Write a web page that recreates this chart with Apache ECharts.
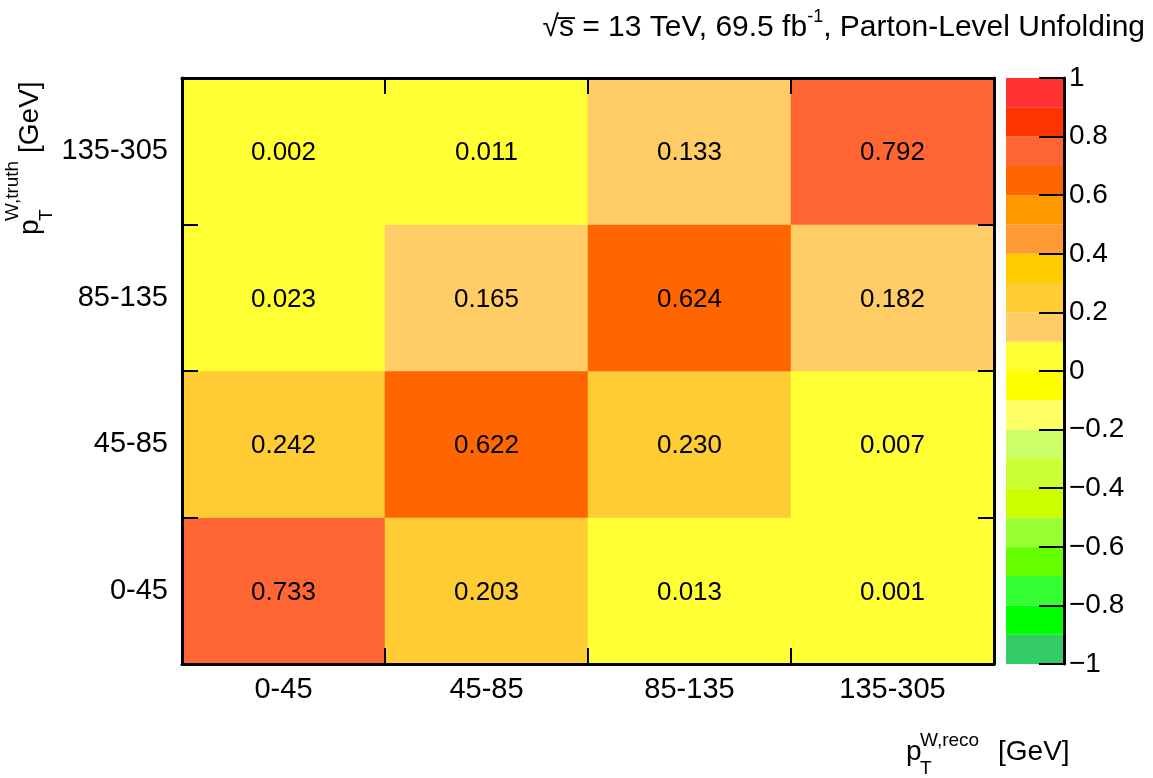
<!DOCTYPE html>
<html>
<head>
<meta charset="utf-8">
<script src="https://cdn.jsdelivr.net/npm/echarts@6/dist/echarts.min.js"></script>
<style>
html,body{margin:0;padding:0;background:#fff;}
#c{width:1153px;height:778px;}
</style>
</head>
<body>
<div id="c"></div>
<script>
// ---- data ----
var recoBins = ['0-45', '45-85', '85-135', '135-305'];
var truthBins = ['0-45', '45-85', '85-135', '135-305'];
// rows: truth bin (bottom to top), columns: reco bin
var row0_45 = [0.733, 0.203, 0.013, 0.001];
var row45_85 = [0.242, 0.622, 0.230, 0.007];
var row85_135 = [0.023, 0.165, 0.624, 0.182];
var row135_305 = [0.002, 0.011, 0.133, 0.792];
var rows = [row0_45, row45_85, row85_135, row135_305];

// colour palette bins (low edge / high edge), from -1 to 1
var binLow = [-1.0, -0.9, -0.8, -0.7, -0.6, -0.5, -0.4, -0.3, -0.2, -0.1,
               0.0, 0.1, 0.2, 0.3, 0.4, 0.5, 0.6, 0.7, 0.8, 0.9];
var binHigh = [-0.9, -0.8, -0.7, -0.6, -0.5, -0.4, -0.3, -0.2, -0.1, 0.0,
               0.1, 0.2, 0.3, 0.4, 0.5, 0.6, 0.7, 0.8, 0.9, 1.0];
var palette = ['#33cc66', '#00ff00', '#33ff33', '#66ff00', '#99ff33', '#ccff00', '#ccff33', '#ccff66', '#ffff66', '#ffff00',
               '#ffff33', '#ffcc66', '#ffcc33', '#ffcc00', '#ff9933', '#ff9900', '#ff6600', '#ff6633', '#ff3300', '#ff3333'];

var FONT = '"Liberation Sans", Arial, Helvetica, sans-serif';

var heatData = [];
rows.forEach(function (r, yi) {
  r.forEach(function (v, xi) { heatData.push([xi, yi, v]); });
});
var barData = binLow.map(function (lo, i) { return [0, lo, binHigh[i], i]; });
var pieces = binLow.map(function (lo, i) { return { gte: lo, lt: binHigh[i], color: palette[i] }; });

function ptLabel(x, y, rot, sup, supY, gevX) {
  var fs = 28, sfs = 19;
  return {
    type: 'group', x: x, y: y, rotation: rot,
    children: [
      { type: 'text', x: 0, y: -0.35 * fs, style: { text: 'p', font: fs + 'px ' + FONT, fill: '#000', align: 'left', verticalAlign: 'middle' } },
      { type: 'text', x: 14, y: supY - 0.35 * sfs, style: { text: sup, font: sfs + 'px ' + FONT, fill: '#000', align: 'left', verticalAlign: 'middle' } },
      { type: 'text', x: 14, y: 13 - 0.35 * sfs, style: { text: 'T', font: sfs + 'px ' + FONT, fill: '#000', align: 'left', verticalAlign: 'middle' } },
      { type: 'text', x: gevX, y: -0.35 * fs, style: { text: '[GeV]', font: fs + 'px ' + FONT, fill: '#000', align: 'left', verticalAlign: 'middle' } }
    ]
  };
}

var chart = echarts.init(document.getElementById('c'), null, { renderer: 'canvas' });
var axisLineStyle = { color: '#000', width: 3 };
var tickStyle = { color: '#000', width: 2 };

chart.setOption({
  animation: false,
  backgroundColor: '#fff',
  textStyle: { fontFamily: FONT },
  grid: [
    { left: 182, top: 78, width: 812, height: 586 },
    { left: 1006, top: 78, width: 58, height: 586 }
  ],
  xAxis: [
    { type: 'category', gridIndex: 0, data: recoBins, position: 'bottom', z: 10,
      axisLine: { show: true, lineStyle: axisLineStyle },
      axisTick: { show: true, inside: true, length: 16, interval: 0, lineStyle: tickStyle },
      axisLabel: { color: '#000', fontSize: 29, fontFamily: FONT, margin: 11 },
      splitLine: { show: false } },
    { type: 'category', gridIndex: 0, data: recoBins, position: 'top', z: 10,
      axisLine: { show: true, lineStyle: axisLineStyle },
      axisTick: { show: true, inside: true, length: 16, interval: 0, lineStyle: tickStyle },
      axisLabel: { show: false }, splitLine: { show: false } },
    { type: 'category', gridIndex: 1, data: [''], show: false }
  ],
  yAxis: [
    { type: 'category', gridIndex: 0, data: truthBins, position: 'left', z: 10,
      axisLine: { show: true, lineStyle: axisLineStyle },
      axisTick: { show: true, inside: true, length: 16, interval: 0, lineStyle: tickStyle },
      axisLabel: { color: '#000', fontSize: 29, fontFamily: FONT, margin: 14, padding: [4, 0, 0, 0] },
      splitLine: { show: false } },
    { type: 'category', gridIndex: 0, data: truthBins, position: 'right', z: 10,
      axisLine: { show: true, lineStyle: axisLineStyle },
      axisTick: { show: true, inside: true, length: 16, interval: 0, lineStyle: tickStyle },
      axisLabel: { show: false }, splitLine: { show: false } },
    { type: 'value', gridIndex: 1, min: -1, max: 1, interval: 0.2, position: 'right', z: 10,
      axisLine: { show: true, lineStyle: axisLineStyle },
      axisTick: { show: true, inside: true, length: 25, lineStyle: tickStyle },
      axisLabel: { color: '#000', fontSize: 28, fontFamily: FONT, margin: 5,
        formatter: function (v) { var r = Math.round(v * 10) / 10; return r < 0 ? '\u2212' + String(-r) : String(r); } },
      splitLine: { show: false } }
  ],
  visualMap: {
    type: 'piecewise', show: false, seriesIndex: 0, dimension: 2, pieces: pieces
  },
  series: [
    {
      type: 'heatmap', xAxisIndex: 0, yAxisIndex: 0, data: heatData, z: 2,
      label: { show: true, color: '#000', fontSize: 26, fontFamily: FONT, offset: [0, 2],
        formatter: function (p) { return p.value[2].toFixed(3); } },
      itemStyle: { borderWidth: 0 },
      emphasis: { disabled: true }
    },
    {
      type: 'custom', xAxisIndex: 2, yAxisIndex: 2, data: barData, z: 2,
      encode: { x: 0, y: [1, 2] },
      renderItem: function (params, api) {
        var top = api.coord([0, api.value(2)]);
        var bot = api.coord([0, api.value(1)]);
        var w = api.size([1, 0])[0];
        return { type: 'rect', shape: { x: top[0] - w / 2, y: top[1], width: w, height: bot[1] - top[1] },
          style: { fill: palette[api.value(3)] } };
      }
    }
  ],
  graphic: [
    { type: 'text', right: 8, top: 8,
      style: { text: '{a|\u221as\u0305 = 13 TeV, 69.5 fb}{s|-1}{a|, Parton-Level Unfolding}',
        rich: { a: { fontSize: 30, fontFamily: FONT, color: '#000', lineHeight: 35, verticalAlign: 'bottom' },
                s: { fontSize: 18, fontFamily: FONT, color: '#000', lineHeight: 35, verticalAlign: 'top' } } } },
    ptLabel(906, 762, 0, 'W,reco', -15, 92),
    ptLabel(40, 235, Math.PI / 2, 'W,truth', -21, 82)
  ]
});
</script>
</body>
</html>
